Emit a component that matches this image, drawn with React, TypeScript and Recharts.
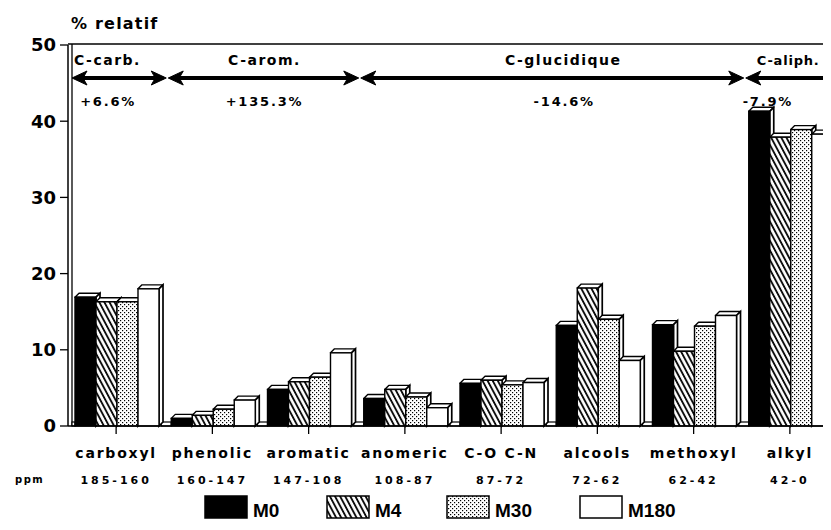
import React from 'react';
import { BarChart, Bar, XAxis, YAxis, Customized } from 'recharts';

const categories = ['carboxyl', 'phenolic', 'aromatic', 'anomeric', 'C-O C-N', 'alcools', 'methoxyl', 'alkyl'];
const ppmRanges = ['185-160', '160-147', '147-108', '108-87', '87-72', '72-62', '62-42', '42-0'];
const m0 = [16.9, 1.0, 4.8, 3.6, 5.6, 13.2, 13.3, 41.3];
const m4 = [16.3, 1.4, 5.8, 4.8, 6.0, 18.1, 9.8, 37.9];
const m30 = [16.3, 2.2, 6.4, 3.8, 5.4, 14.0, 13.1, 38.9];
const m180 = [18.0, 3.4, 9.6, 2.4, 5.7, 8.6, 14.5, 38.3];
const yTicks = [0, 10, 20, 30, 40, 50];
const seriesNames = ['M0', 'M4', 'M30', 'M180'];
const groupLabels = ['C-carb.', 'C-arom.', 'C-glucidique', 'C-aliph.'];
const groupChanges = ['+6.6%', '+135.3%', '-14.6%', '-7.9%'];
const groupStart = [0, 1, 3, 7];
const groupEnd = [1, 3, 7, 8];

const data = categories.map((name, i) => ({
  name,
  ppm: ppmRanges[i],
  M0: m0[i],
  M4: m4[i],
  M30: m30[i],
  M180: m180[i],
}));

const fills = ['#000', 'url(#hatchM4)', 'url(#dotM30)', '#fff'];

const W = 832;
const H = 522;
const MARGIN = { top: 37, right: 2, bottom: 44, left: 0 };
const YW = 60;
const XH = 60;
const PL = MARGIN.left + YW;
const PR = W - MARGIN.right;
const PT = MARGIN.top;
const PB = H - MARGIN.bottom - XH;
const BAND = (PR - PL) / categories.length;
const GAP = 7;
const D = 4;
const FONT = '"DejaVu Sans", Verdana, sans-serif';

function Bar3D(props: any) {
  const { x, y, width, height, fill } = props;
  if (height == null || isNaN(height)) return null;
  return (
    <g>
      <polygon
        points={`${x},${y} ${x + D},${y - D} ${x + width + D},${y - D} ${x + width},${y}`}
        fill="#fff"
        stroke="#000"
        strokeWidth={1.4}
        strokeLinejoin="round"
      />
      <polygon
        points={`${x + width},${y} ${x + width + D},${y - D} ${x + width + D},${y + height - D} ${x + width},${y + height}`}
        fill="#fff"
        stroke="#000"
        strokeWidth={1.7}
      />
      <rect x={x} y={y} width={width} height={height} fill={fill} stroke="#000" strokeWidth={1.4} />
    </g>
  );
}

function CatTick(props: any) {
  const { x, y, payload } = props;
  const idx = payload && payload.index != null ? payload.index : categories.indexOf(payload.value);
  return (
    <g>
      <text x={x} y={y} dy={22} textAnchor="middle" fontFamily={FONT} fontWeight="bold" fontSize={14} letterSpacing={1.8} fill="#000">
        {payload.value}
      </text>
      <text x={x} y={y} dy={48} textAnchor="middle" fontFamily={FONT} fontWeight="bold" fontSize={11} letterSpacing={3} fill="#000">
        {ppmRanges[idx]}
      </text>
    </g>
  );
}

function arrowHead(tipX: number, y: number, dir: number, key: string) {
  const L = 15;
  const h = 7;
  return (
    <polygon key={key} points={`${tipX},${y} ${tipX - dir * L},${y - h} ${tipX - dir * (L - 4)},${y} ${tipX - dir * L},${y + h}`} fill="#000" stroke="#000" strokeWidth={1} />
  );
}

function Overlay() {
  const ay = 70;
  const bx = (i: number) => (i === 0 ? PL + 4 : PL + i * BAND + 3);
  const labelX = [PL + 6, PL + 2 * BAND + 4, PL + 5 * BAND + 14, PL + 7 * BAND + 15];
  const changeX = [PL + 0.5 * BAND - 8, PL + 2 * BAND + 4, PL + 5 * BAND + 15, PL + 7.5 * BAND - 22];
  return (
    <g>
      {/* frame */}
      <line x1={PL} y1={PT - 1} x2={W} y2={PT - 1} stroke="#000" strokeWidth={1.5} />
      <line x1={PL + 4} y1={PT - 1} x2={PL + 4} y2={PB} stroke="#000" strokeWidth={1.3} />
      {/* floor pieces between groups */}
      {Array.from({ length: categories.length + 1 }).map((_, i) => {
        const x1 = i === 0 ? PL + 4 : PL + i * BAND - GAP + D;
        const x2 = Math.min(PL + i * BAND + GAP, W);
        if (x2 <= x1) return null;
        return <rect key={`f${i}`} x={x1} y={PB - D} width={x2 - x1} height={D} fill="#fff" stroke="#000" strokeWidth={1.2} />;
      })}
      {/* y axis title */}
      <text x={PL + 3} y={21} fontFamily={FONT} fontWeight="bold" fontSize={16} letterSpacing={1.2} fill="#000">% relatif</text>
      {/* group arrows */}
      {groupLabels.map((lab, g) => {
        const x1 = bx(groupStart[g]);
        const x2 = g === groupLabels.length - 1 ? W + 20 : PL + groupEnd[g] * BAND + 3;
        const last = g === groupLabels.length - 1;
        return (
          <g key={`g${g}`}>
            <line x1={x1 + 4} y1={ay} x2={x2 - 4} y2={ay} stroke="#000" strokeWidth={4} />
            {arrowHead(x1 + (g === 0 ? 0 : 1), ay, -1, `a${g}l`)}
            {arrowHead(x2 - 1, ay, 1, `a${g}r`)}
            <text x={labelX[g]} y={57} textAnchor={g === 0 || last ? 'start' : 'middle'} fontFamily={FONT} fontWeight="bold" fontSize={last ? 13 : 14} letterSpacing={last ? 0.8 : 1.5} fill="#000">
              {lab}
            </text>
            <text x={changeX[g]} y={98} textAnchor="middle" fontFamily={FONT} fontWeight="bold" fontSize={13} letterSpacing={1.8} fill="#000">
              {groupChanges[g]}
            </text>
          </g>
        );
      })}
      {/* ppm label */}
      <text x={7} y={475} fontFamily={FONT} fontWeight="bold" fontSize={10} letterSpacing={1.5} fill="#000">ppm</text>
      {/* legend */}
      {seriesNames.map((s, i) => {
        const lx = [197, 319, 439, 572][i];
        return (
          <g key={`l${s}`}>
            <rect x={lx} y={488} width={42} height={22} fill={fills[i]} stroke="#000" strokeWidth={1.5} />
            <text x={lx + 48} y={509} fontFamily='"Liberation Sans", Arial, sans-serif' fontWeight="bold" fontSize={19} fill="#000">
              {s}
            </text>
          </g>
        );
      })}
    </g>
  );
}

export default function App() {
  return (
    <div style={{ width: 823, height: H, overflow: 'hidden', position: 'relative', background: '#fff' }}>
      <svg width={0} height={0} style={{ position: 'absolute' }}>
        <defs>
          <pattern id="hatchM4" width="4.5" height="4.5" patternUnits="userSpaceOnUse" patternTransform="rotate(-28)">
            <rect width="4.5" height="4.5" fill="#fff" />
            <line x1="1" y1="-1" x2="1" y2="6" stroke="#000" strokeWidth="1.8" />
          </pattern>
          <pattern id="dotM30" width="4" height="4" patternUnits="userSpaceOnUse">
            <rect width="4" height="4" fill="#fff" />
            <rect x="0" y="0" width="1.2" height="1.2" fill="#000" />
            <rect x="2" y="2" width="1.2" height="1.2" fill="#000" />
          </pattern>
        </defs>
      </svg>
      <BarChart width={W} height={H} data={data} margin={MARGIN} barGap={0} barCategoryGap={GAP}>
        <XAxis
          dataKey="name"
          interval={0}
          height={XH}
          tickSize={8}
          tickLine={{ stroke: '#000', strokeWidth: 1.3 }}
          axisLine={{ stroke: '#000', strokeWidth: 1.5 }}
          tick={<CatTick />}
        />
        <YAxis
          width={YW}
          domain={[0, 50]}
          ticks={yTicks}
          interval={0}
          tickSize={8}
          tickMargin={4}
          tickLine={{ stroke: '#000', strokeWidth: 1.3 }}
          axisLine={{ stroke: '#000', strokeWidth: 1.5 }}
          tick={{ fill: '#000', fontSize: 18, fontWeight: 'bold', fontFamily: FONT }}
        />
        <Customized component={<Overlay />} />
        {seriesNames.map((s, i) => (
          <Bar key={s} dataKey={s} fill={fills[i]} shape={<Bar3D />} isAnimationActive={false} />
        ))}
      </BarChart>
    </div>
  );
}
